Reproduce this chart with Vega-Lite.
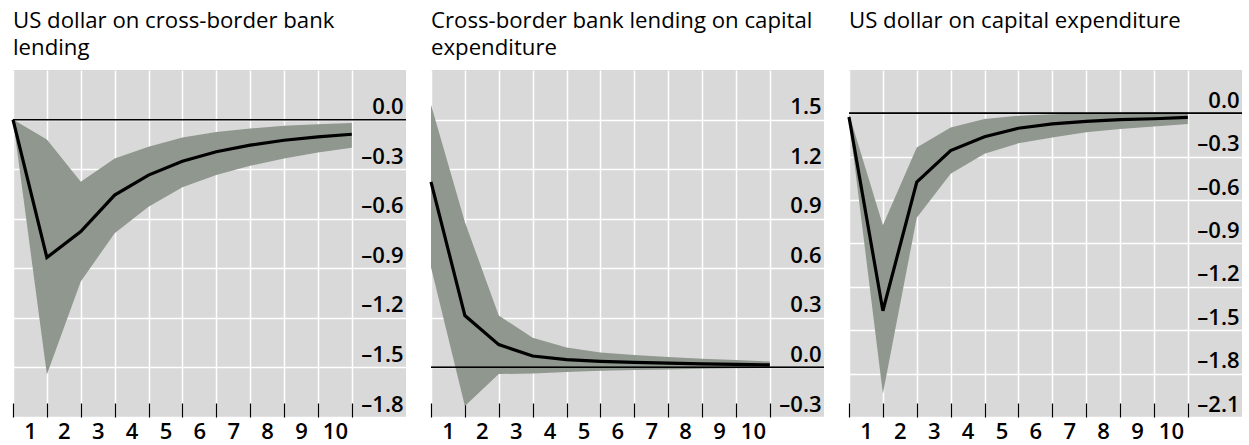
{
  "$schema": "https://vega.github.io/schema/vega-lite/v6.json",
  "padding": {"left": 6, "top": 10, "right": 0, "bottom": 0},
  "bounds": "flush",
  "spacing": 25,
  "config": {
    "font": "Open Sans",
    "view": {"fill": "#d9d9d9", "stroke": null},
    "title": {"anchor": "start", "frame": "group", "fontSize": 22.2, "fontWeight": "normal", "color": "#000000", "baseline": "bottom", "lineHeight": 26.7, "font": "Open Sans"},
    "axis": {"domain": false, "gridColor": "#ffffff", "gridWidth": 1.5, "gridOpacity": 1, "labelFont": "Open Sans", "labelFontSize": 22, "labelFontWeight": 600, "labelColor": "#000000", "labelFlush": false, "labelOverlap": false, "labelBound": false, "title": null},
    "axisX": {"values": [0,1,2,3,4,5,6,7,8,9,10], "grid": true, "ticks": true, "tickSize": -14, "tickColor": "#000000", "tickWidth": 1.2, "labelOffset": 17, "labelPadding": 35, "labelBaseline": "alphabetic", "labelOverlap": false, "labelExpr": "datum.value < 10 ? '' + (datum.value + 1) : ''"},
    "axisY": {"orient": "right", "grid": true, "ticks": false, "labelAlign": "right", "labelPadding": -3, "labelBaseline": "alphabetic", "labelOffset": -6, "labelOverlap": false, "labelExpr": "replace(replace(format(datum.value, '.1f'), '\u2212', '–'), '-', '–')"}
  },
  "hconcat": [
    {
      "width": 393, "height": 347,
      "title": {"text": ["US dollar on cross-border bank", "lending"], "offset": 11},
      "data": {"values": [
        {"t": 0, "lo": 0, "mid": 0, "hi": 0},
        {"t": 1, "lo": -1.543, "mid": -0.835, "hi": -0.12},
        {"t": 2, "lo": -0.98, "mid": -0.678, "hi": -0.376},
        {"t": 3, "lo": -0.688, "mid": -0.457, "hi": -0.236},
        {"t": 4, "lo": -0.527, "mid": -0.336, "hi": -0.165},
        {"t": 5, "lo": -0.41, "mid": -0.252, "hi": -0.109},
        {"t": 6, "lo": -0.336, "mid": -0.195, "hi": -0.075},
        {"t": 7, "lo": -0.28, "mid": -0.155, "hi": -0.054},
        {"t": 8, "lo": -0.236, "mid": -0.125, "hi": -0.038},
        {"t": 9, "lo": -0.2, "mid": -0.105, "hi": -0.028},
        {"t": 10, "lo": -0.171, "mid": -0.089, "hi": -0.02}
      ]},
      "layer": [
        {
          "mark": {"type": "area", "color": "#8f978f"},
          "encoding": {
            "x": {"field": "t", "type": "quantitative", "scale": {"domain": [0, 11.6], "nice": false, "zero": false}, "axis": {"values": [0,1,2,3,4,5,6,7,8,9,10]}},
            "y": {"field": "lo", "type": "quantitative", "scale": {"domain": [-1.8, 0.3], "nice": false, "zero": false}, "axis": {"orient": "right", "values": [-1.8,-1.5,-1.2,-0.9,-0.6,-0.3,0]}},
            "y2": {"field": "hi"}
          }
        },
        {
          "mark": {"type": "rule", "color": "#000000", "strokeWidth": 1},
          "encoding": {"y": {"datum": 0, "type": "quantitative", "axis": {"orient": "right", "values": [-1.8,-1.5,-1.2,-0.9,-0.6,-0.3,0]}}}
        },
        {
          "mark": {"type": "line", "color": "#000000", "strokeWidth": 3.2},
          "encoding": {
            "x": {"field": "t", "type": "quantitative", "axis": {"values": [0,1,2,3,4,5,6,7,8,9,10]}},
            "y": {"field": "mid", "type": "quantitative", "axis": {"orient": "right", "values": [-1.8,-1.5,-1.2,-0.9,-0.6,-0.3,0]}}
          }
        }
      ]
    },
    {
      "width": 393, "height": 347,
      "title": {"text": ["Cross-border bank lending on capital", "expenditure"], "offset": 11},
      "data": {"values": [
        {"t": 0, "lo": 0.607, "mid": 1.123, "hi": 1.589},
        {"t": 1, "lo": -0.233, "mid": 0.314, "hi": 0.88},
        {"t": 2, "lo": -0.04, "mid": 0.138, "hi": 0.314},
        {"t": 3, "lo": -0.037, "mid": 0.069, "hi": 0.18},
        {"t": 4, "lo": -0.027, "mid": 0.047, "hi": 0.121},
        {"t": 5, "lo": -0.02, "mid": 0.037, "hi": 0.091},
        {"t": 6, "lo": -0.016, "mid": 0.03, "hi": 0.075},
        {"t": 7, "lo": -0.012, "mid": 0.026, "hi": 0.063},
        {"t": 8, "lo": -0.008, "mid": 0.022, "hi": 0.053},
        {"t": 9, "lo": -0.005, "mid": 0.018, "hi": 0.045},
        {"t": 10, "lo": -0.003, "mid": 0.015, "hi": 0.036}
      ]},
      "layer": [
        {
          "mark": {"type": "area", "color": "#8f978f"},
          "encoding": {
            "x": {"field": "t", "type": "quantitative", "scale": {"domain": [0, 11.6], "nice": false, "zero": false}, "axis": {"values": [0,1,2,3,4,5,6,7,8,9,10]}},
            "y": {"field": "lo", "type": "quantitative", "scale": {"domain": [-0.3, 1.8], "nice": false, "zero": false}, "axis": {"orient": "right", "values": [-0.3,0,0.3,0.6,0.9,1.2,1.5]}},
            "y2": {"field": "hi"}
          }
        },
        {
          "mark": {"type": "rule", "color": "#000000", "strokeWidth": 1},
          "encoding": {"y": {"datum": 0, "type": "quantitative", "axis": {"orient": "right", "values": [-0.3,0,0.3,0.6,0.9,1.2,1.5]}}}
        },
        {
          "mark": {"type": "line", "color": "#000000", "strokeWidth": 3.2},
          "encoding": {
            "x": {"field": "t", "type": "quantitative", "axis": {"values": [0,1,2,3,4,5,6,7,8,9,10]}},
            "y": {"field": "mid", "type": "quantitative", "axis": {"orient": "right", "values": [-0.3,0,0.3,0.6,0.9,1.2,1.5]}}
          }
        }
      ]
    },
    {
      "width": 393, "height": 347,
      "title": {"text": "US dollar on capital expenditure", "offset": 37.7},
      "data": {"values": [
        {"t": 0, "lo": -0.04, "mid": -0.025, "hi": -0.005},
        {"t": 1, "lo": -1.94, "mid": -1.365, "hi": -0.774},
        {"t": 2, "lo": -0.722, "mid": -0.476, "hi": -0.236},
        {"t": 3, "lo": -0.418, "mid": -0.257, "hi": -0.097},
        {"t": 4, "lo": -0.28, "mid": -0.161, "hi": -0.039},
        {"t": 5, "lo": -0.207, "mid": -0.103, "hi": -0.016},
        {"t": 6, "lo": -0.166, "mid": -0.073, "hi": -0.006},
        {"t": 7, "lo": -0.131, "mid": -0.055, "hi": 0.0},
        {"t": 8, "lo": -0.108, "mid": -0.043, "hi": 0.005},
        {"t": 9, "lo": -0.09, "mid": -0.037, "hi": 0.008},
        {"t": 10, "lo": -0.073, "mid": -0.028, "hi": 0.01}
      ]},
      "layer": [
        {
          "mark": {"type": "area", "color": "#8f978f"},
          "encoding": {
            "x": {"field": "t", "type": "quantitative", "scale": {"domain": [0, 11.6], "nice": false, "zero": false}, "axis": {"values": [0,1,2,3,4,5,6,7,8,9,10]}},
            "y": {"field": "lo", "type": "quantitative", "scale": {"domain": [-2.1, 0.3], "nice": false, "zero": false}, "axis": {"orient": "right", "values": [-2.1,-1.8,-1.5,-1.2,-0.9,-0.6,-0.3,0]}},
            "y2": {"field": "hi"}
          }
        },
        {
          "mark": {"type": "rule", "color": "#000000", "strokeWidth": 1},
          "encoding": {"y": {"datum": 0, "type": "quantitative", "axis": {"orient": "right", "values": [-2.1,-1.8,-1.5,-1.2,-0.9,-0.6,-0.3,0]}}}
        },
        {
          "mark": {"type": "line", "color": "#000000", "strokeWidth": 3.2},
          "encoding": {
            "x": {"field": "t", "type": "quantitative", "axis": {"values": [0,1,2,3,4,5,6,7,8,9,10]}},
            "y": {"field": "mid", "type": "quantitative", "axis": {"orient": "right", "values": [-2.1,-1.8,-1.5,-1.2,-0.9,-0.6,-0.3,0]}}
          }
        }
      ]
    }
  ]
}
